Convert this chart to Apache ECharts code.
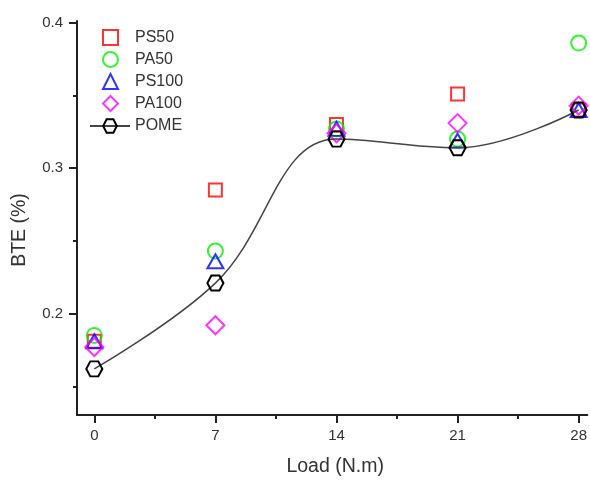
<!DOCTYPE html>
<html>
<head>
<meta charset="utf-8">
<script src="https://cdn.jsdelivr.net/npm/echarts@6/dist/echarts.min.js"></script>
<style>
  html, body { margin: 0; padding: 0; background: #fff; }
  #chart { width: 590px; height: 482px; }
</style>
</head>
<body>
<div id="chart"></div>
<script>
// Brake thermal efficiency against engine load for each blend
const loads = [0, 7, 14, 21, 28];
const ps50  = [0.181, 0.285, 0.330, 0.351, 0.340];
const pa50  = [0.185, 0.243, 0.327, 0.320, 0.386];
const ps100 = [0.181, 0.236, 0.327, 0.319, 0.340];
const pa100 = [0.177, 0.192, 0.324, 0.331, 0.343];
const pome  = [0.162, 0.221, 0.320, 0.314, 0.340];

const xMajorTicks = [0, 7, 14, 21, 28];
const xMinorTicks = [3.5, 10.5, 17.5, 24.5];
const yMajorTicks = [0.2, 0.3, 0.4];
const yMinorTicks = [0.15, 0.25, 0.35];

const FONT = 'Liberation Sans, Arial, sans-serif';
const INK = '#222';
const HEXAGON = 'path://M0,433 L250,0 L750,0 L1000,433 L750,866 L250,866 Z';

const pairs = ys => loads.map((x, i) => [x, ys[i]]);

function scatter(name, ys, symbol, size, color) {
  return {
    name, type: 'scatter', data: pairs(ys), symbol, symbolSize: size,
    itemStyle: { color: 'rgba(0,0,0,0)', borderColor: color, borderWidth: 2 },
    emphasis: { disabled: true }, z: 3
  };
}

const X_RANGE = { min: -1, max: 28.5 };
const Y_RANGE = { min: 0.1303, max: 0.4012 };

const chart = echarts.init(document.getElementById('chart'), null, { renderer: 'canvas' });
chart.setOption({
  animation: false,
  backgroundColor: '#fff',
  grid: { left: 77, right: 0, top: 21, bottom: 62, containLabel: false },
  legend: [{
    // marker-only entries: square icon box, text pushed out to line up with the POME entry
    data: ['PS50', 'PA50', 'PS100', 'PA100'],
    orient: 'vertical', left: 102, top: 29, padding: 0,
    itemWidth: 15, itemHeight: 15, itemGap: 5,
    textStyle: { fontFamily: FONT, fontSize: 16, color: '#333', padding: [0, 0, 0, 12] },
    selectedMode: false
  }, {
    data: ['POME'],
    orient: 'vertical', left: 89, top: 118, padding: 0,
    itemWidth: 40, itemHeight: 17,
    textStyle: { fontFamily: FONT, fontSize: 16, color: '#333' },
    selectedMode: false
  }],
  xAxis: [{
    type: 'value', position: 'bottom', ...X_RANGE,
    name: 'Load (N.m)', nameLocation: 'middle', nameGap: 42,
    nameTextStyle: { fontFamily: FONT, fontSize: 19.5, color: '#333', padding: [0, 0, 0, 6] },
    axisLine: { show: true, onZero: false, lineStyle: { color: INK, width: 2 } },
    axisTick: { show: true, customValues: xMajorTicks, length: 8, inside: false, lineStyle: { color: INK, width: 2 } },
    axisLabel: { customValues: xMajorTicks, margin: 13, fontFamily: FONT, fontSize: 15, color: '#333' },
    splitLine: { show: false }
  }, {
    type: 'value', position: 'bottom', ...X_RANGE,
    axisLine: { show: false, onZero: false },
    axisTick: { show: true, customValues: xMinorTicks, length: 4, lineStyle: { color: INK, width: 2 } },
    axisLabel: { show: false },
    splitLine: { show: false }
  }],
  yAxis: [{
    type: 'value', position: 'left', ...Y_RANGE,
    name: 'BTE (%)', nameLocation: 'middle', nameGap: 47, nameRotate: 90,
    nameTextStyle: { fontFamily: FONT, fontSize: 19.5, color: '#333', padding: [0, 24, 0, 0] },
    axisLine: { show: true, onZero: false, lineStyle: { color: INK, width: 2 } },
    axisTick: { show: true, customValues: yMajorTicks, length: 8, lineStyle: { color: INK, width: 2 } },
    axisLabel: { customValues: yMajorTicks, margin: 14, fontFamily: FONT, fontSize: 15, color: '#333',
                 formatter: v => v.toFixed(1) },
    splitLine: { show: false }
  }, {
    type: 'value', position: 'left', ...Y_RANGE,
    axisLine: { show: false, onZero: false },
    axisTick: { show: true, customValues: yMinorTicks, length: 4, lineStyle: { color: INK, width: 2 } },
    axisLabel: { show: false },
    splitLine: { show: false }
  }],
  series: [
    scatter('PS50', ps50, 'rect', 13, '#ff0000'),
    scatter('PA50', pa50, 'circle', 15, '#00f000'),
    scatter('PS100', ps100, 'triangle', [16, 14], '#0000ff'),
    scatter('PA100', pa100, 'diamond', [18, 18], '#ff00ff'),
    {
      name: 'POME', type: 'line', data: pairs(pome), smooth: 0.4,
      symbol: HEXAGON, symbolSize: [16, 15], showSymbol: true,
      lineStyle: { color: '#444', width: 1.5 },
      itemStyle: { color: 'rgba(0,0,0,0)', borderColor: '#000', borderWidth: 2 },
      emphasis: { disabled: true }, z: 4
    }
  ]
});
</script>
</body>
</html>
